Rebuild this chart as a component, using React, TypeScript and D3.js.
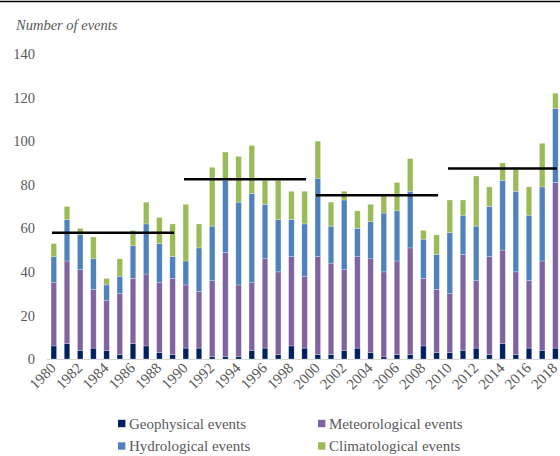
import React from "react";
import * as d3 from "d3";

const years = [
  1980, 1981, 1982, 1983, 1984, 1985, 1986, 1987, 1988, 1989,
  1990, 1991, 1992, 1993, 1994, 1995, 1996, 1997, 1998, 1999,
  2000, 2001, 2002, 2003, 2004, 2005, 2006, 2007, 2008, 2009,
  2010, 2011, 2012, 2013, 2014, 2015, 2016, 2017, 2018,
];

const geophysical = [
  6, 7, 4, 5, 4, 2, 7, 6, 3, 2,
  5, 5, 1, 1, 1, 4, 5, 2, 6, 5,
  2, 2, 4, 5, 3, 1, 2, 2, 6, 3,
  3, 4, 5, 2, 7, 2, 5, 4, 5,
];
const meteorological = [
  29, 38, 37, 27, 23, 28, 30, 33, 32, 35,
  29, 26, 35, 48, 33, 31, 41, 38, 41, 33,
  45, 42, 37, 42, 43, 39, 43, 49, 31, 29,
  27, 44, 31, 45, 43, 38, 31, 41, 76,
];
const hydrological = [
  12, 19, 16, 14, 7, 8, 15, 23, 18, 10,
  11, 20, 25, 33, 38, 41, 25, 24, 17, 24,
  36, 17, 32, 13, 17, 27, 23, 26, 18, 16,
  28, 18, 25, 23, 32, 37, 30, 34, 34,
];
const climatological = [
  6, 6, 3, 10, 3, 8, 7, 10, 12, 15,
  26, 11, 27, 13, 21, 22, 11, 18, 13, 15,
  17, 11, 4, 8, 8, 8, 13, 15, 4, 9,
  15, 7, 23, 9, 8, 11, 13, 20, 7,
];

const seriesNames = [
  "Geophysical events",
  "Meteorological events",
  "Hydrological events",
  "Climatological events",
];
const seriesColors = ["#002060", "#8064a2", "#4f81bd", "#9bbb59"];

// decade periods for the average lines
const periods = [
  [1980, 1989],
  [1990, 1999],
  [2000, 2009],
  [2010, 2018],
];

const yTicks = [0, 20, 40, 60, 80, 100, 120, 140];
const xTicks = years.filter((y) => y % 2 === 0);

const W = 560;
const H = 456;
const FONT = "'Liberation Serif', 'Times New Roman', serif";
const GREY = "#595959";

const App: React.FC = () => {
  const rows = years.map((year, i) => ({
    year,
    geo: geophysical[i],
    met: meteorological[i],
    hyd: hydrological[i],
    cli: climatological[i],
  }));
  const keys = ["geo", "met", "hyd", "cli"];
  const stacked = d3.stack<any>().keys(keys)(rows);

  const x = d3
    .scaleBand<number>()
    .domain(years)
    .range([47.2, 562])
    .paddingInner(0.58)
    .paddingOuter(0.29);
  const y = d3.scaleLinear().domain([0, 140]).range([359, 54]);

  const totals = rows.map((r) => r.geo + r.met + r.hyd + r.cli);
  const avgLines = periods.map(([a, b]) => {
    const vals = totals.filter((_, i) => years[i] >= a && years[i] <= b);
    return { a, b, v: d3.mean(vals) as number };
  });

  const bw = x.bandwidth();

  return (
    <svg
      width={W}
      height={H}
      style={{ position: "absolute", left: 0, top: 0, background: "#fff" }}
      fontFamily={FONT}
    >
      <line x1={0} x2={W} y1={1.5} y2={1.5} stroke="#000" strokeWidth={1.6} />
      <text x={16} y={30} fontSize={14.5} fontStyle="italic" fill={GREY}>
        Number of events
      </text>

      {yTicks.map((t) => (
        <text
          key={t}
          x={35}
          y={y(t)}
          dy="0.35em"
          textAnchor="end"
          fontSize={14.5}
          fill={GREY}
        >
          {t}
        </text>
      ))}

      <line x1={47} x2={W} y1={359.5} y2={359.5} stroke="#d9d9d9" strokeWidth={1} />

      {stacked.map((s, si) => (
        <g key={si} fill={seriesColors[si]}>
          {s.map((d: any) => (
            <rect
              key={d.data.year}
              x={x(d.data.year)}
              y={y(d[1])}
              width={bw}
              height={y(d[0]) - y(d[1])}
              stroke="#fff"
              strokeOpacity={0.5}
              strokeWidth={0.5}
            />
          ))}
        </g>
      ))}

      {avgLines.map((l) => (
        <line
          key={l.a}
          x1={(x(l.a) as number) + 1}
          x2={(x(l.b) as number) + bw / 2 + 1.5}
          y1={y(l.v)}
          y2={y(l.v)}
          stroke="#000"
          strokeWidth={2.5}
        />
      ))}

      {xTicks.map((t) => (
        <text
          key={t}
          transform={`translate(${(x(t) as number) + bw / 2 + 3},${369}) rotate(-45)`}
          textAnchor="end"
          fontSize={15}
          fill={GREY}
        >
          {t}
        </text>
      ))}

      {seriesNames.map((name, i) => {
        const lx = i % 2 === 0 ? 118 : 318;
        const ly = i < 2 ? 423.5 : 446;
        return (
          <g key={name}>
            <rect x={lx} y={ly - 3.7} width={7.4} height={7.4} fill={seriesColors[i]} />
            <text x={lx + 11} y={ly} dy="0.35em" fontSize={15} fill={GREY}>
              {name}
            </text>
          </g>
        );
      })}
    </svg>
  );
};

export default App;
